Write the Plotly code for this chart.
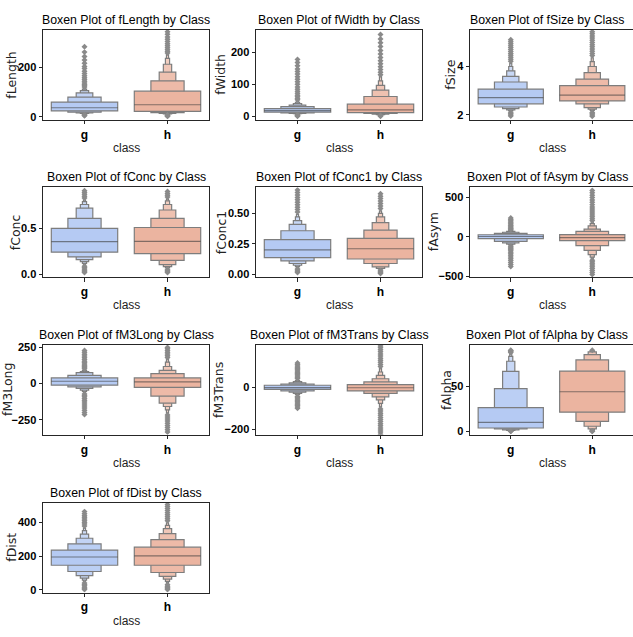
import plotly.graph_objects as go

W, H = 633, 637

CLASSES = ["g", "h"]
FEATURES = ["fLength", "fWidth", "fSize", "fConc", "fConc1",
            "fAsym", "fM3Long", "fM3Trans", "fAlpha", "fDist"]

# ---- letter values (level 1 = quartiles, then octiles, ...) ----
fLength_g_median = 37
fLength_g_lower = [24, 19, 16, 14, 12.5, 11]
fLength_g_upper = [60, 80, 97, 106, 112, 117]
fLength_g_outliers = [121, 126, 131, 137, 144, 151, 158, 166, 175, 185, 196, 204, 217, 230, 244, 262, 284, 9, 7, 5]
fLength_h_median = 49
fLength_h_lower = [22, 17.5, 14.5, 12.5, 11, 9.5]
fLength_h_upper = [104, 146, 181, 213, 237, 252]
fLength_h_outliers = [258, 265, 272, 280, 288, 296, 305, 314, 323, 334, 344, 8, 6, 4, 2]

fWidth_g_median = 18
fWidth_g_lower = [13, 11, 9.5, 8.5, 7.5, 6.5]
fWidth_g_upper = [24, 30, 35, 40, 44, 48]
fWidth_g_outliers = [52, 56, 61, 66, 72, 78, 85, 92, 100, 108, 116, 124, 132, 140, 148, 158, 168, 178, 5, 3.5, 2, 0.5]
fWidth_h_median = 20
fWidth_h_lower = [11.5, 9, 7, 5.5, 4.5, 3.5]
fWidth_h_upper = [38, 62, 82, 97, 111, 124]
fWidth_h_outliers = [130, 138, 146, 155, 164, 174, 184, 195, 206, 218, 230, 242, 256, 2.5, 1.5, 0.5]

fSize_g_median = 2.72
fSize_g_lower = [2.46, 2.33, 2.26, 2.21, 2.17, 2.13]
fSize_g_upper = [3.07, 3.36, 3.59, 3.82, 4.0, 4.13]
fSize_g_outliers = [4.22, 4.3, 4.38, 4.46, 4.54, 4.62, 4.7, 4.78, 4.86, 4.94, 5.02, 5.1, 2.09, 2.05, 2.0, 1.96]
fSize_h_median = 2.82
fSize_h_lower = [2.58, 2.46, 2.30, 2.24, 2.19, 2.15]
fSize_h_upper = [3.21, 3.48, 3.75, 4.0, 4.2, 4.36]
fSize_h_outliers = [4.45, 4.54, 4.63, 4.72, 4.81, 4.9, 4.99, 5.08, 5.17, 5.26, 5.35, 5.43, 2.1, 2.05, 2.0, 1.95]

fConc_g_median = 0.357
fConc_g_lower = [0.242, 0.19, 0.16, 0.14, 0.12, 0.105]
fConc_g_upper = [0.50, 0.61, 0.72, 0.76, 0.79, 0.81]
fConc_g_outliers = [0.83, 0.85, 0.87, 0.89, 0.91, 0.09, 0.075, 0.06, 0.045, 0.03, 0.02]
fConc_h_median = 0.36
fConc_h_lower = [0.225, 0.153, 0.107, 0.085, 0.07, 0.06]
fConc_h_upper = [0.51, 0.61, 0.70, 0.76, 0.80, 0.82]
fConc_h_outliers = [0.84, 0.86, 0.88, 0.90, 0.05, 0.04, 0.03, 0.02]

fConc1_g_median = 0.20
fConc1_g_lower = [0.137, 0.11, 0.089, 0.075, 0.063, 0.055]
fConc1_g_upper = [0.285, 0.357, 0.41, 0.44, 0.47, 0.49]
fConc1_g_outliers = [0.51, 0.53, 0.55, 0.57, 0.59, 0.61, 0.63, 0.65, 0.67, 0.69, 0.045, 0.035, 0.025, 0.015]
fConc1_h_median = 0.21
fConc1_h_lower = [0.126, 0.089, 0.061, 0.05, 0.042, 0.036]
fConc1_h_upper = [0.295, 0.363, 0.424, 0.47, 0.50, 0.52]
fConc1_h_outliers = [0.54, 0.56, 0.58, 0.60, 0.62, 0.64, 0.66, 0.03, 0.022, 0.015, 0.008]

fAsym_g_median = 6
fAsym_g_lower = [-20, -55, -75, -90, -100, -108]
fAsym_g_upper = [28, 45, 60, 72, 82, 90]
fAsym_g_outliers = [95, 105, 115, 125, 138, 150, 163, 176, 190, 205, 220, 240,
                    -118, -130, -145, -160, -176, -193, -212, -232, -254, -277, -300, -325, -350, -375]
fAsym_h_median = -8
fAsym_h_lower = [-46, -109, -171, -225, -255, -275]
fAsym_h_upper = [29, 70, 100, 141, 170, 195]
fAsym_h_outliers = [210, 230, 255, 280, 305, 330, 355, 380, 410, 440, 470, 500, 530, 560, 590,
                    -295, -315, -335, -355, -378, -400, -425, -450, -475]

fM3Long_g_median = 16
fM3Long_g_lower = [-11, -23, -33, -45, -55, -63]
fM3Long_g_upper = [39, 57, 75, 82, 90, 96]
fM3Long_g_outliers = [103, 110, 118, 126, 135, 145, 155, 166, 178, 190, 203, 216, 228,
                      -72, -82, -92, -103, -115, -128, -141, -155, -170, -185, -200, -215]
fM3Long_h_median = 12
fM3Long_h_lower = [-27, -87, -136, -159, -182, -205]
fM3Long_h_upper = [39, 68, 91, 118, 148, 170]
fM3Long_h_outliers = [180, 192, 204, 216, 228, 240, 250,
                      -218, -232, -246, -260, -275, -290, -305, -320, -335]

fM3Trans_g_median = 0
fM3Trans_g_lower = [-9, -16, -22, -28, -33, -38]
fM3Trans_g_upper = [11, 16, 22, 28, 33, 38]
fM3Trans_g_outliers = [43, 49, 55, 61, 67, 73, 79, 85, 91, 97, 103, 110, 117,
                       -43, -49, -55, -61, -67, -73, -79, -85, -92, -98]
fM3Trans_h_median = -1
fM3Trans_h_lower = [-16, -28, -44, -59, -75, -92]
fM3Trans_h_upper = [14, 27, 42, 58, 74, 90]
fM3Trans_h_outliers = [100, 110, 120, 130, 140, 150, 160, 170, 180, 190, 198,
                       -102, -112, -122, -132, -142, -152, -162, -172, -182, -192, -202, -212, -222]

fAlpha_g_median = 9.9
fAlpha_g_lower = [3.6, 2.5, 1.5, 1.0, 0.7, 0.5]
fAlpha_g_upper = [26.3, 47.4, 66.4, 77.7, 83, 86]
fAlpha_g_outliers = [87.5, 88.5, 89.3, 90, 0.3, 0.1, 0.0]
fAlpha_h_median = 43.8
fAlpha_h_lower = [21.1, 10.9, 5.5, 2.5, 1.3, 0.7]
fAlpha_h_upper = [66.8, 79.2, 85, 88, 89.3, 89.8]
fAlpha_h_outliers = [90, 0.3, 0.1, 0.0]

fDist_g_median = 195
fDist_g_lower = [146, 109, 85, 70, 58, 48]
fDist_g_upper = [236, 273, 306, 331, 351, 366]
fDist_g_outliers = [378, 390, 400, 410, 420, 430, 440, 452, 464, 40, 32, 24, 16, 8, 2]
fDist_h_median = 201
fDist_h_lower = [146, 103, 80, 64, 50, 40]
fDist_h_upper = [253, 298, 333, 363, 382, 398]
fDist_h_outliers = [410, 422, 434, 446, 458, 470, 482, 494, 506, 30, 22, 14, 7, 2]

# y tick values / labels per feature
Y_TICKS = {
    "fLength": ([0, 200], ["0", "200"]),
    "fWidth": ([0, 100, 200], ["0", "100", "200"]),
    "fSize": ([2, 4], ["2", "4"]),
    "fConc": ([0, 0.5], ["0.0", "0.5"]),
    "fConc1": ([0, 0.25, 0.5], ["0.00", "0.25", "0.50"]),
    "fAsym": ([-500, 0, 500], ["\u2212500", "0", "500"]),
    "fM3Long": ([-250, 0, 250], ["\u2212250", "0", "250"]),
    "fM3Trans": ([-200, 0], ["\u2212200", "0"]),
    "fAlpha": ([0, 50], ["0", "50"]),
    "fDist": ([0, 200, 400], ["0", "200", "400"]),
}

# ---- styling / layout (not data) ----
Y_RANGES = {
    "fLength": [-12, 353], "fWidth": [-11, 271], "fSize": [1.80, 5.52],
    "fConc": [-0.029, 0.946], "fConc1": [-0.022, 0.712], "fAsym": [-509, 629],
    "fM3Long": [-355, 266], "fM3Trans": [-225, 202], "fAlpha": [-4, 95.6],
    "fDist": [-16, 516],
}
YLABEL_OFFSET = {
    "fLength": -31, "fWidth": -35, "fSize": -19, "fConc": -28, "fConc1": -35,
    "fAsym": -37, "fM3Long": -35, "fM3Trans": -37, "fAlpha": -23, "fDist": -31,
}
COL_PX = [(43, 209), (256, 422), (470, 635)]
TITLE_CX = [126, 339, 547]
ROW_PX = [(26, 117.5), (186, 277), (346, 437), (506, 597)]

BASE_RGB = {"g": (181, 202, 243), "h": (235, 180, 160)}
EDGE = "#7d7d7d"
FRAME = "#262626"
FONT = "Liberation Sans, Arial, sans-serif"
LABEL_FONT = "DejaVu Sans, sans-serif"

def mix(rgb, t):
    return "rgb(%d,%d,%d)" % tuple(round(c + (255 - c) * t) for c in rgb)

def px_x(p):
    return p / W

def px_y(p):
    return 1 - p / H

DATA = {name: {c: dict(median=globals()[f"{name}_{c}_median"],
                       lower=globals()[f"{name}_{c}_lower"],
                       upper=globals()[f"{name}_{c}_upper"],
                       outliers=globals()[f"{name}_{c}_outliers"]) for c in CLASSES}
        for name in FEATURES}

fig = go.Figure()
layout = dict(width=W, height=H, margin=dict(l=0, r=0, t=0, b=0),
              paper_bgcolor="white", plot_bgcolor="white", barmode="overlay",
              showlegend=False, annotations=[])

for idx, name in enumerate(FEATURES):
    r, c = divmod(idx, 3)
    n = idx + 1
    sfx = "" if n == 1 else str(n)
    xa, ya = "x" + sfx, "y" + sfx
    x0, x1 = COL_PX[c]
    y0, y1 = ROW_PX[r]
    for pos, cls in enumerate(CLASSES):
        d = DATA[name][cls]
        k = len(d["lower"])
        order = list(range(k - 1, -1, -1))  # narrow (deep) levels first, IQR box last
        fig.add_trace(go.Bar(
            x=[pos] * k,
            base=[d["lower"][j] for j in order],
            y=[d["upper"][j] - d["lower"][j] for j in order],
            width=[0.8 * 0.5 ** j for j in order],
            marker=dict(color=[mix(BASE_RGB[cls], 0.085 * j) for j in order],
                        line=dict(color=EDGE, width=1.2)),
            xaxis=xa, yaxis=ya, hoverinfo="skip", showlegend=False))
        fig.add_trace(go.Scatter(
            x=[pos - 0.4, pos + 0.4], y=[d["median"], d["median"]], mode="lines",
            line=dict(color="rgba(60,60,60,0.6)", width=1.2),
            xaxis=xa, yaxis=ya, hoverinfo="skip", showlegend=False))
        fig.add_trace(go.Scatter(
            x=[pos] * len(d["outliers"]), y=d["outliers"], mode="markers",
            marker=dict(symbol="diamond", size=4.6, color="#8a8a8a", line=dict(width=0)),
            xaxis=xa, yaxis=ya, hoverinfo="skip", showlegend=False))
    tv, tt = Y_TICKS[name]
    common = dict(showline=True, linecolor=FRAME, linewidth=1,
                  ticks="outside", ticklen=3.5, tickcolor=FRAME, tickwidth=1,
                  showgrid=False, zeroline=False,
                  tickfont=dict(family=FONT, size=11, color="black", weight="bold"))
    layout["xaxis" + sfx] = dict(domain=[px_x(x0), min(1, px_x(x1))], anchor=ya, mirror=True,
                                 range=[-0.5, 1.5], tickvals=[0, 1], ticktext=CLASSES,
                                 **common)
    layout["xaxis" + sfx]["tickfont"] = dict(family=FONT, size=12, color="black", weight="bold")
    layout["yaxis" + sfx] = dict(domain=[px_y(y1), px_y(y0)], anchor=xa, mirror=(c < 2),
                                 range=Y_RANGES[name], tickvals=tv, ticktext=tt, **common)
    cx = (x0 + x1) / 2
    layout["annotations"].append(dict(
        text=f"Boxen Plot of {name} by Class", x=px_x(TITLE_CX[c]), y=px_y(y0 - 1),
        xref="paper", yref="paper", xanchor="center", yanchor="bottom", showarrow=False,
        font=dict(family=FONT, size=12.3, color="black")))
    layout["annotations"].append(dict(
        text="class", x=px_x(cx), y=px_y(y1 + 28.5), xref="paper", yref="paper",
        xanchor="center", yanchor="middle", showarrow=False,
        font=dict(family=FONT, size=12, color="#222")))
    layout["annotations"].append(dict(
        text=name, x=px_x(x0 + YLABEL_OFFSET[name]), y=px_y((y0 + y1) / 2),
        xref="paper", yref="paper", xanchor="center", yanchor="middle",
        textangle=-90, showarrow=False,
        font=dict(family=LABEL_FONT, size=12.5, color="#222")))

fig.update_layout(**layout)
fig.write_html("out.html", config={"displayModeBar": False},
               post_script="document.body.style.margin='0';document.body.style.overflow='hidden';")
